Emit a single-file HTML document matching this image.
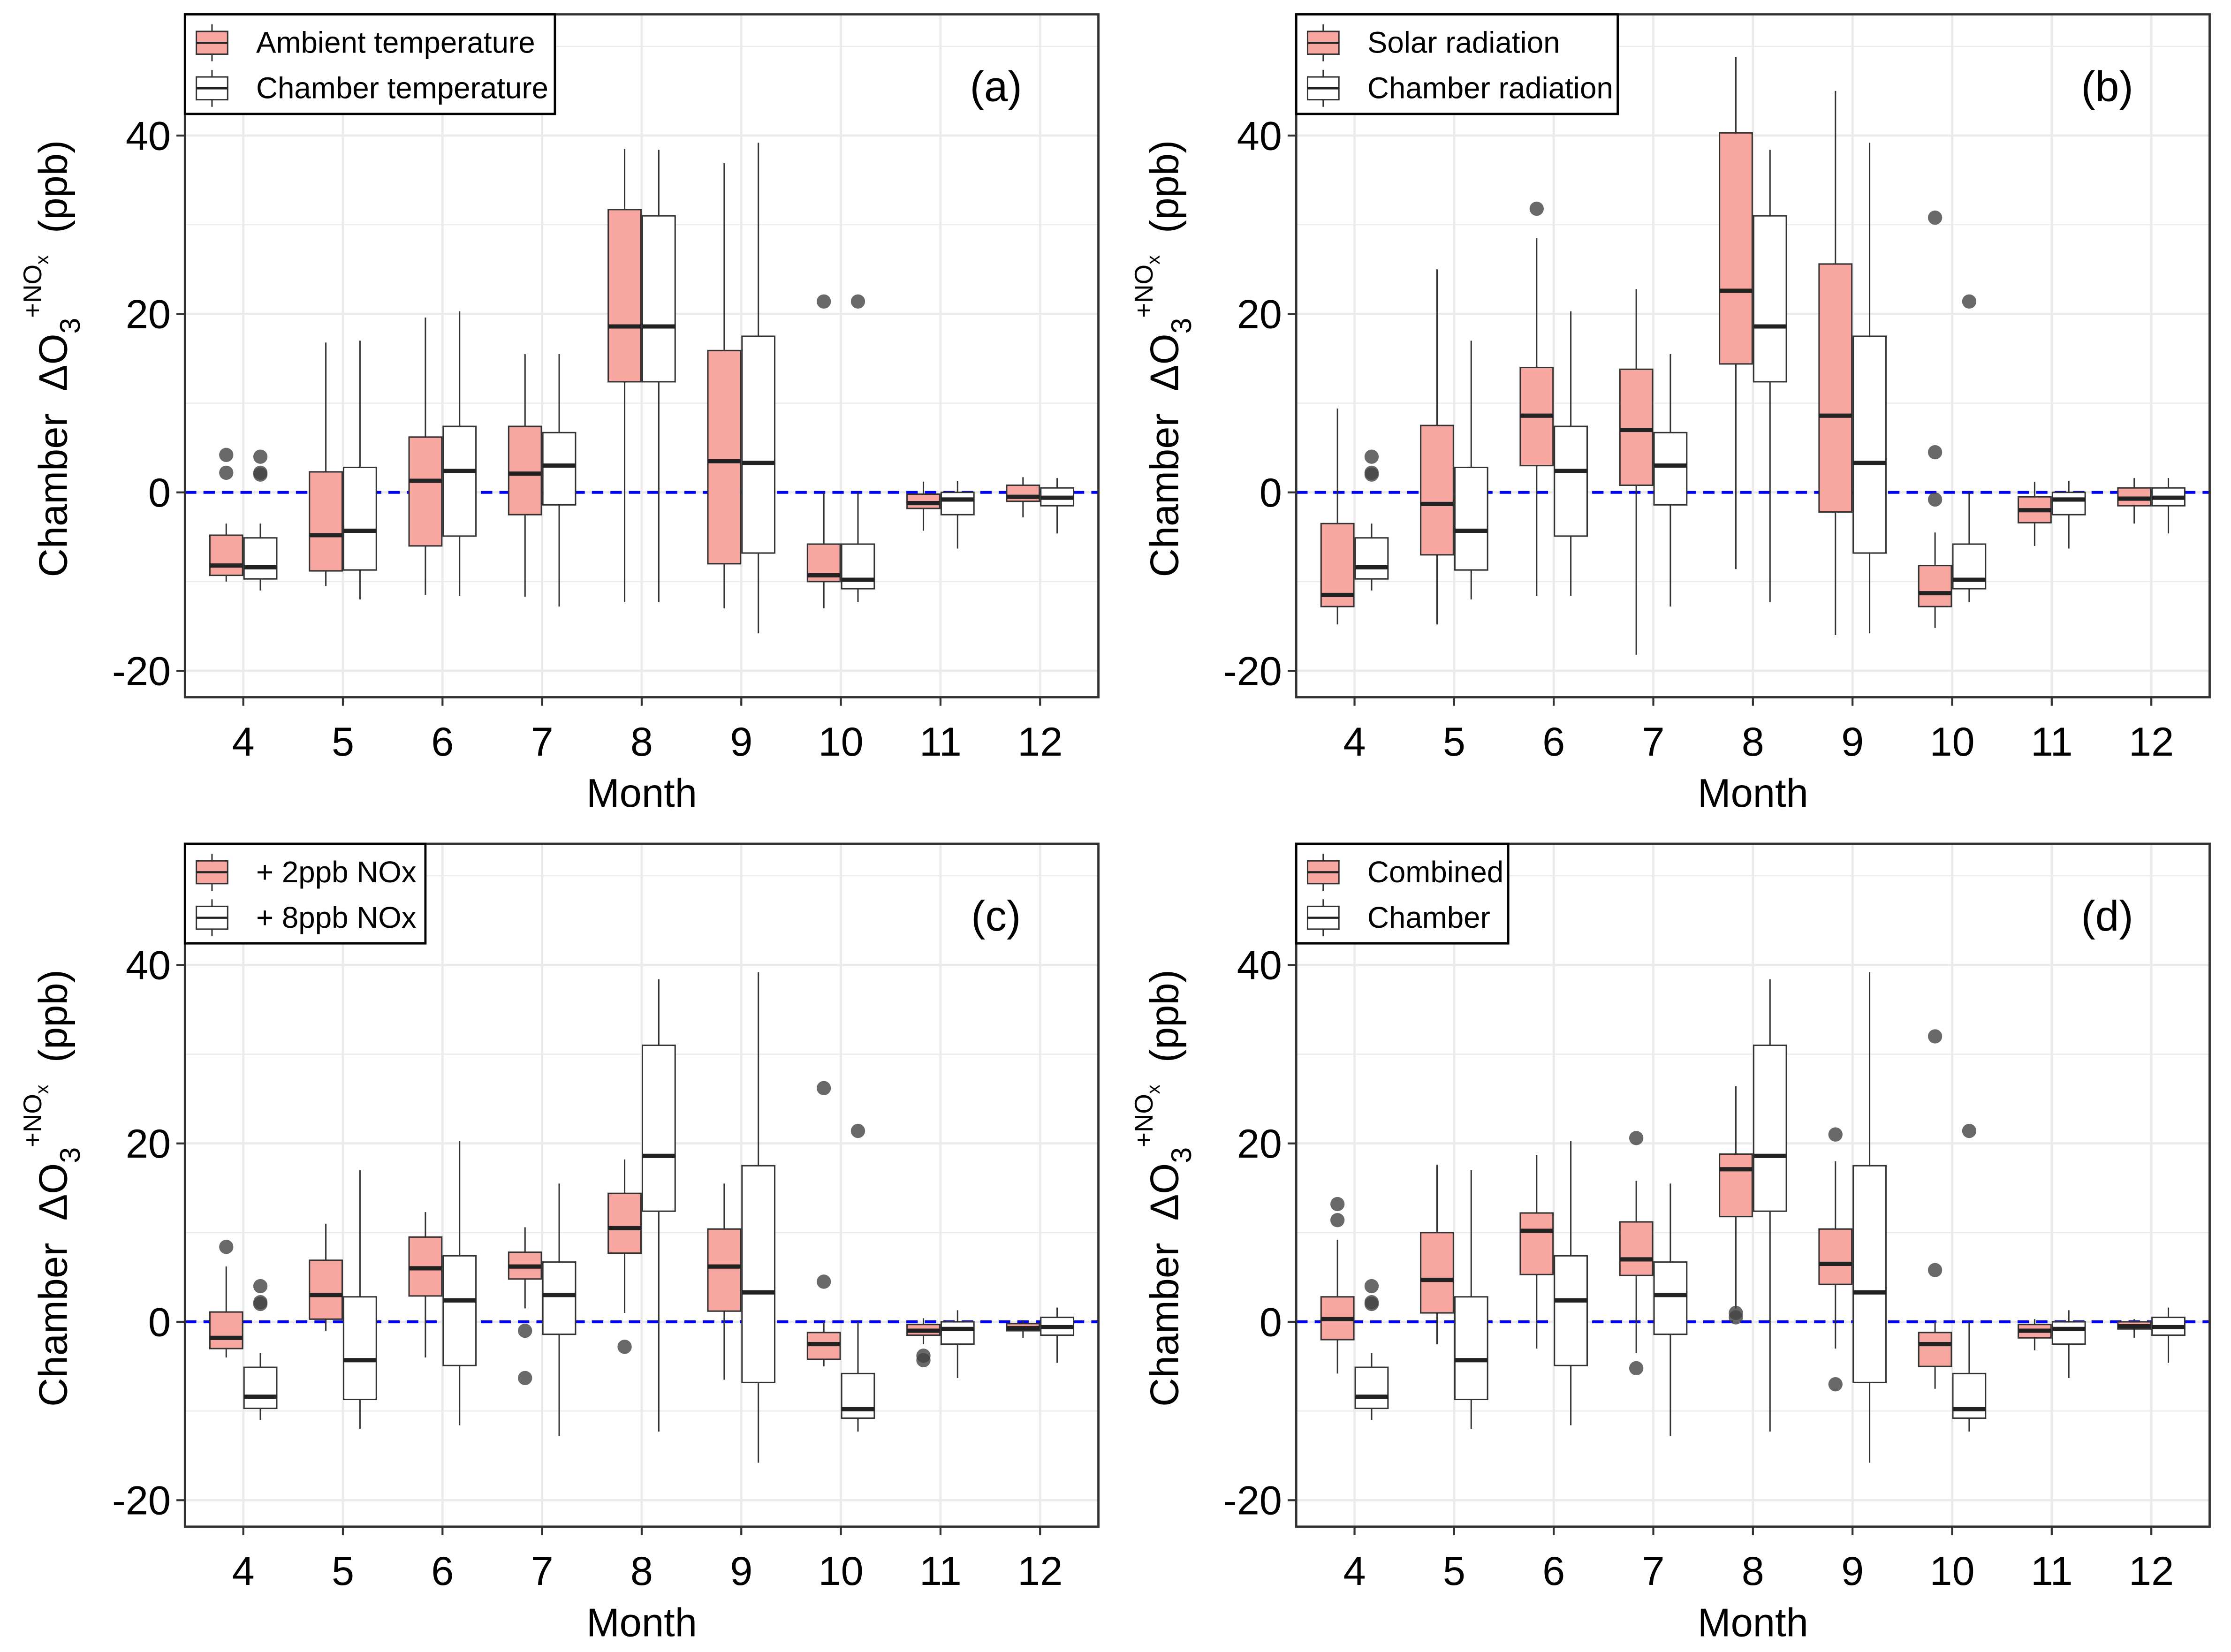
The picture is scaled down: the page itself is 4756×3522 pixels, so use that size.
<!DOCTYPE html>
<html><head><meta charset="utf-8"><style>
html,body{margin:0;padding:0;background:#fff}
svg{display:block}
text{font-family:"Liberation Sans",Arial,sans-serif}
</style></head><body>
<svg id="chart" width="4756" height="3522" viewBox="0 0 1568 1161" xmlns="http://www.w3.org/2000/svg"></svg>
<script>
const months = [4,5,6,7,8,9,10,11,12];
const yTicks = [-20,0,20,40];
const chamberStats = [[-11,-9.7,-8.4,-5.1,-3.5],[-12,-8.7,-4.3,2.8,17],[-11.6,-4.9,2.4,7.4,20.3],[-12.8,-1.4,3,6.7,15.5],[-12.3,12.4,18.6,31,38.4],[-15.8,-6.8,3.3,17.5,39.2],[-12.3,-10.8,-9.8,-5.8,0],[-6.3,-2.5,-0.8,0,1.3],[-4.6,-1.5,-0.6,0.5,1.6]];
const chamberOut = [[2,2.2,4],[],[],[],[],[],[21.4],[],[]];
const ambientStats = [[-10,-9.3,-8.2,-4.8,-3.5],[-10.5,-8.8,-4.8,2.3,16.8],[-11.5,-6,1.3,6.2,19.6],[-11.7,-2.5,2.1,7.4,15.5],[-12.3,12.4,18.6,31.7,38.5],[-13,-8,3.5,15.9,36.9],[-13,-10,-9.3,-5.8,0],[-4.3,-1.8,-1.2,-0.2,1.2],[-2.8,-1,-0.5,0.8,1.7]];
const ambientOut = [[2.2,4.2],[],[],[],[],[],[21.4],[],[]];
const solarStats = [[-14.8,-12.8,-11.5,-3.5,9.4],[-14.8,-7,-1.3,7.5,25],[-11.6,3,8.6,14,28.5],[-18.2,0.8,7,13.8,22.8],[-8.6,14.4,22.6,40.3,48.8],[-16,-2.2,8.6,25.6,45],[-15.2,-12.8,-11.3,-8.2,-4.5],[-6,-3.4,-2,-0.5,1.2],[-3.5,-1.5,-0.7,0.5,1.6]];
const solarOut = [[],[],[31.8],[],[],[],[-0.8,4.5,30.8],[],[]];
const nox2Stats = [[-4,-3,-1.8,1.1,6.2],[-1,0.3,3,6.9,11],[-4,2.9,6,9.5,12.3],[1.5,4.8,6.2,7.8,10.6],[1,7.7,10.5,14.4,18.2],[-6.5,1.2,6.2,10.4,15.5],[-5,-4.2,-2.5,-1.2,0],[-2.5,-1.5,-1,-0.3,0.4],[-1.8,-1,-0.7,-0.2,0.2]];
const nox2Out = [[8.4],[],[],[-1,-6.3],[-2.8],[],[4.5,26.2],[-3.8,-4.3],[]];
const combStats = [[-5.8,-2,0.3,2.8,9.2],[-2.5,1,4.7,10,17.6],[-3,5.3,10.2,12.2,18.7],[-3.5,5.2,7,11.2,15.8],[1.5,11.8,17.1,18.8,26.4],[-3,4.2,6.5,10.4,18],[-7.5,-5,-2.5,-1.2,0],[-3.2,-1.8,-1,-0.3,0.3],[-1.8,-0.8,-0.5,0,0.3]];
const combOut = [[11.4,13.2],[],[],[-5.2,20.6],[0.5,1],[-7,21],[5.8,32],[],[]];

const NS="http://www.w3.org/2000/svg";
const svg=document.getElementById('chart');
function mk(tag,attrs,parent){const e=document.createElementNS(NS,tag);for(const k in attrs)e.setAttribute(k,attrs[k]);(parent||svg).appendChild(e);return e;}

const panels=[
 {ox:0,oy:0,label:'(a)',leg:['Ambient temperature','Chamber temperature'],legW:260,pink:ambientStats,pinkOut:ambientOut,name:'panel-a'},
 {ox:781,oy:0,label:'(b)',leg:['Solar radiation','Chamber radiation'],legW:226,pink:solarStats,pinkOut:solarOut,name:'panel-b'},
 {ox:0,oy:583,label:'(c)',leg:['+ 2ppb NOx','+ 8ppb NOx'],legW:169,pink:nox2Stats,pinkOut:nox2Out,name:'panel-c'},
 {ox:781,oy:583,label:'(d)',leg:['Combined','Chamber'],legW:149,pink:combStats,pinkOut:combOut,name:'panel-d'}
];

panels.forEach(p=>{
 const g=mk('g',{transform:`translate(${p.ox},${p.oy})`});
 
 
 const L=130,R=772,T=10,B=490;
 const y=v=>346-v*6.27;
 const x=m=>171+(m-4)*70;
 for(let v=-30;v<=50;v+=10){const yy=y(v);if(yy<T||yy>B)continue;
  const major=(v%20===0);
  const ln=mk('line',{x1:L,x2:R,y1:yy,y2:yy,stroke:'#ebebeb','stroke-width':major?1.6:0.8},g);
  
  }
 months.forEach(m=>{const ln=mk('line',{x1:x(m),x2:x(m),y1:T,y2:B,stroke:'#ebebeb','stroke-width':1.6},g);
  
  });
 const z=mk('line',{x1:L,x2:R,y1:y(0),y2:y(0),stroke:'#0000ff','stroke-width':2,'stroke-dasharray':'8,5'},g);
 
 
 function box(s,out,cx,fill,nm){
  const bg=mk('g',{},g);
  
  
  const w=23;
  mk('line',{x1:cx,x2:cx,y1:y(s[0]),y2:y(s[4]),stroke:'#333','stroke-width':1},bg);
  mk('rect',{x:cx-w/2,y:y(s[3]),width:w,height:y(s[1])-y(s[3]),fill:fill,stroke:'#333','stroke-width':1},bg);
  mk('line',{x1:cx-w/2,x2:cx+w/2,y1:y(s[2]),y2:y(s[2]),stroke:'#222','stroke-width':3},bg);
  out.forEach(o=>{const c=mk('circle',{cx:cx,cy:y(o),r:5,fill:'#444','fill-opacity':0.8},bg);
   
   });
 }
 months.forEach((m,i)=>{
  box(p.pink[i],p.pinkOut[i],x(m)-12,'#f8a7a0','box-pink-month-'+m);
  box(chamberStats[i],chamberOut[i],x(m)+12,'#ffffff','box-white-month-'+m);
 });
 const br=mk('rect',{x:L,y:T,width:R-L,height:B-T,fill:'none',stroke:'#333','stroke-width':1.6},g);
 
 
 yTicks.forEach(v=>{
  mk('line',{x1:L-6,x2:L,y1:y(v),y2:y(v),stroke:'#333','stroke-width':1.4},g);
  const t=mk('text',{x:L-10,y:y(v)+10,'text-anchor':'end','font-size':28.5,fill:'#000'},g);
  t.textContent=v;
  
  
 });
 months.forEach(m=>{
  mk('line',{x1:x(m),x2:x(m),y1:B,y2:B+6,stroke:'#333','stroke-width':1.4},g);
  const t=mk('text',{x:x(m),y:531,'text-anchor':'middle','font-size':28.5,fill:'#000'},g);
  t.textContent=m;
  
  
 });
 const xt=mk('text',{x:451,y:567,'text-anchor':'middle','font-size':28,fill:'#000'},g);
 xt.textContent='Month';
 
 
 const yt=mk('text',{transform:'translate(47,252) rotate(-90)','text-anchor':'middle','font-size':28,fill:'#000'},g);
 
 
 yt.innerHTML='Chamber\u00a0\u00a0ΔO<tspan font-size="20" dy="9">3</tspan><tspan font-size="18" dy="-27">+NO</tspan><tspan font-size="13" dy="5">x</tspan><tspan dy="13">\u00a0\u00a0(ppb)</tspan>';
 const pl=mk('text',{x:700,y:71,'text-anchor':'middle','font-size':30,fill:'#000'},g);
 pl.textContent=p.label;
 
 
 const lg=mk('g',{},g);
 
 
 mk('rect',{x:L,y:T,width:p.legW,height:70,fill:'#fff',stroke:'#000','stroke-width':1.6},lg);
 [['#f8a7a0',p.leg[0],20],['#ffffff',p.leg[1],52]].forEach(([f,txt,ky])=>{
  const e=mk('g',{},lg);
  
  
  mk('line',{x1:149,x2:149,y1:ky-3,y2:ky+23,stroke:'#333','stroke-width':1},e);
  mk('rect',{x:138,y:ky+2,width:22,height:16,fill:f,stroke:'#333','stroke-width':1},e);
  mk('line',{x1:138,x2:160,y1:ky+10,y2:ky+10,stroke:'#222','stroke-width':1.5},e);
  const t=mk('text',{x:180,y:ky+17,'font-size':21,fill:'#000'},e);t.textContent=txt;
 });
});
</script>
</body></html>
